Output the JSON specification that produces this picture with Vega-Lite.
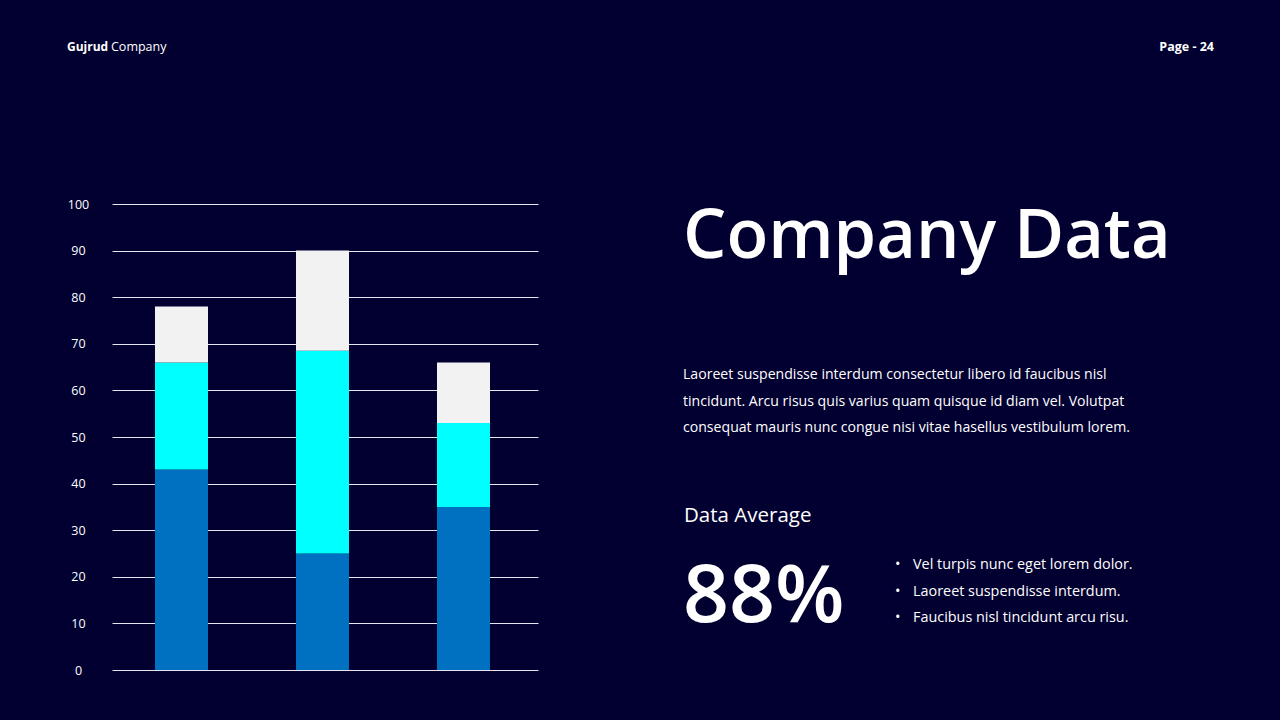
{
  "$schema": "https://vega.github.io/schema/vega-lite/v6.json",
  "autosize": {"type": "none"},
  "width": 426,
  "height": 466,
  "padding": {"left": 112, "top": 204, "right": 742, "bottom": 50},
  "background": "#020030",
  "config": {
    "view": {"stroke": null},
    "font": "Open Sans"
  },
  "layer": [
    {
      "data": {
        "values": [
          {"category": "Category 1", "series": "Series 1", "value": 43},
          {"category": "Category 1", "series": "Series 2", "value": 23},
          {"category": "Category 1", "series": "Series 3", "value": 12},
          {"category": "Category 2", "series": "Series 1", "value": 25},
          {"category": "Category 2", "series": "Series 2", "value": 43.5},
          {"category": "Category 2", "series": "Series 3", "value": 21.5},
          {"category": "Category 3", "series": "Series 1", "value": 35},
          {"category": "Category 3", "series": "Series 2", "value": 18},
          {"category": "Category 3", "series": "Series 3", "value": 13}
        ]
      },
      "mark": {"type": "bar"},
      "encoding": {
        "x": {
          "field": "category",
          "type": "nominal",
          "axis": null,
          "scale": {"paddingInner": 0.624, "paddingOuter": 0.3226, "align": 0.4725}
        },
        "y": {
          "field": "value",
          "type": "quantitative",
          "stack": "zero",
          "scale": {"domain": [0, 100], "nice": false},
          "axis": {
            "values": [0, 10, 20, 30, 40, 50, 60, 70, 80, 90, 100],
            "title": null,
            "domain": false,
            "ticks": false,
            "grid": true,
            "gridColor": "#e6e6f0",
            "gridWidth": 1,
            "gridOpacity": 1,
            "labelColor": "#ffffff",
            "labelFont": "Open Sans",
            "labelFontSize": 12.5,
            "labelFontWeight": 500,
            "labelAlign": "center",
            "labelBaseline": "middle",
            "labelPadding": 34
          }
        },
        "color": {
          "field": "series",
          "type": "nominal",
          "legend": null,
          "scale": {
            "domain": ["Series 1", "Series 2", "Series 3"],
            "range": ["#0070c0", "#00ffff", "#f2f2f2"]
          }
        },
        "order": {"field": "series", "sort": "ascending"}
      }
    },
    {
      "data": {"values": [{}]},
      "mark": {"type": "text", "text": "Gujrud", "fontWeight": "bold", "fontSize": 12, "color": "#ffffff", "align": "left", "baseline": "middle", "x": -45, "y": -157}
    },
    {
      "data": {"values": [{}]},
      "mark": {"type": "text", "text": "Company", "fontSize": 12.5, "color": "#ffffff", "align": "left", "baseline": "middle", "x": -1, "y": -157}
    },
    {
      "data": {"values": [{}]},
      "mark": {"type": "text", "text": "Page - 24", "fontWeight": "bold", "fontSize": 12.5, "color": "#ffffff", "align": "right", "baseline": "middle", "x": 1102, "y": -157}
    },
    {
      "data": {"values": [{}]},
      "mark": {"type": "text", "text": "Company Data", "fontSize": 68.5, "fontWeight": 600, "color": "#ffffff", "align": "left", "baseline": "alphabetic", "x": 571, "y": 54}
    },
    {
      "data": {"values": [{}]},
      "mark": {"type": "text", "text": ["Laoreet suspendisse interdum consectetur libero id faucibus nisl", "tincidunt. Arcu risus quis varius quam quisque id diam vel. Volutpat", "consequat mauris nunc congue nisi vitae hasellus vestibulum lorem."], "fontSize": 14.1, "lineHeight": 26.5, "color": "#ffffff", "align": "left", "baseline": "middle", "x": 571, "y": 171}
    },
    {
      "data": {"values": [{}]},
      "mark": {"type": "text", "text": "Data Average", "fontSize": 20.5, "color": "#ffffff", "align": "left", "baseline": "middle", "x": 572, "y": 312}
    },
    {
      "data": {"values": [{}]},
      "mark": {"type": "text", "text": "88%", "fontSize": 80.5, "fontWeight": 600, "color": "#ffffff", "align": "left", "baseline": "alphabetic", "x": 571, "y": 418}
    },
    {
      "data": {"values": [{}]},
      "mark": {"type": "text", "text": ["•", "•", "•"], "fontSize": 14.5, "lineHeight": 26.5, "color": "#ffffff", "align": "left", "baseline": "middle", "x": 783, "y": 361}
    },
    {
      "data": {"values": [{}]},
      "mark": {"type": "text", "text": ["Vel turpis nunc eget lorem dolor.", "Laoreet suspendisse interdum.", "Faucibus nisl tincidunt arcu risu."], "fontSize": 14.4, "lineHeight": 26.5, "color": "#ffffff", "align": "left", "baseline": "middle", "x": 801, "y": 361}
    }
  ]
}
